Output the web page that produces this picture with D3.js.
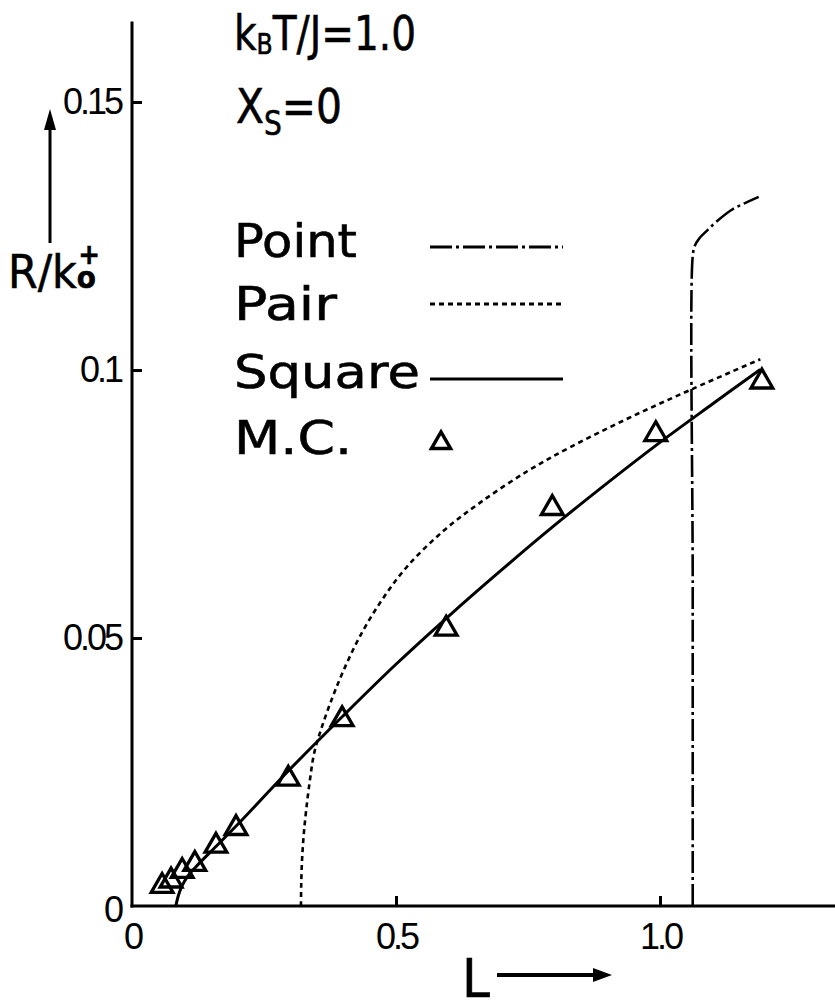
<!DOCTYPE html>
<html>
<head>
<meta charset="utf-8">
<script src="https://cdn.jsdelivr.net/npm/d3@7/dist/d3.min.js"></script>
<style>
  html, body { margin: 0; padding: 0; background: #fff; }
  svg { display: block; }
  .tick text { font-family: "Liberation Sans", Arial, sans-serif; font-size: 36px; letter-spacing: -3px; fill: #000; }
  .lbl { font-family: "DejaVu Sans", "Liberation Sans", sans-serif; fill: #000; stroke: #000; stroke-width: 0.6px; }
</style>
</head>
<body>
<svg id="chart" width="835" height="1001"></svg>
<script>
// Axis ticks and their labels
const xTicks = [0, 0.5, 1.0];
const xTickLabels = ["0", "0.5", "1.0"];
const yTicks = [0, 0.05, 0.1, 0.15];
const yTickLabels = ["0", "0.05", "0.1", "0.15"];

// Point approximation (dash-dot)
const pointL = [1.062, 1.062, 1.062, 1.066, 1.074, 1.09, 1.106, 1.136, 1.16, 1.187];
const pointR = [0, 0.06, 0.1212, 0.1232, 0.1245, 0.1261, 0.1276, 0.1299, 0.1311, 0.1323];

// Pair approximation (dashed)
const pairL = [0.32, 0.3205, 0.322, 0.325, 0.33, 0.337, 0.345, 0.36, 0.38, 0.4, 0.43, 0.47, 0.52, 0.59, 0.66, 0.75, 0.83, 0.94, 1.06, 1.19];
const pairR = [0, 0.004, 0.0085, 0.013, 0.018, 0.0235, 0.0285, 0.0335, 0.039, 0.0438, 0.05, 0.0566, 0.0632, 0.07, 0.0753, 0.0812, 0.0856, 0.091, 0.0964, 0.102];

// Square approximation (solid)
const squareL = [0.083, 0.088, 0.095, 0.105, 0.12, 0.16, 0.2, 0.3, 0.4, 0.5, 0.6, 0.7, 0.8, 0.9, 1.0, 1.1, 1.19];
const squareR = [0, 0.002, 0.0038, 0.0055, 0.0072, 0.0112, 0.0152, 0.0256, 0.0355, 0.0451, 0.0541, 0.0627, 0.071, 0.0789, 0.0865, 0.0937, 0.1001];

// Monte Carlo results (triangles)
const mcL = [0.057, 0.074, 0.095, 0.119, 0.159, 0.197, 0.296, 0.398, 0.595, 0.796, 0.992, 1.193];
const mcR = [0.0039, 0.0049, 0.0067, 0.008, 0.0114, 0.0147, 0.0239, 0.035, 0.0519, 0.0744, 0.0882, 0.098];

const svg = d3.select("#chart");

const x = d3.scaleLinear().domain([0, 1.3277]).range([132, 833]);
const y = d3.scaleLinear().domain([0, 0.165]).range([906, 21.6]);

const zip = (a, b) => a.map((v, i) => [v, b[i]]);

// Axes with inward ticks
const xAxis = d3.axisBottom(x)
  .tickValues(xTicks)
  .tickFormat((d, i) => xTickLabels[i])
  .tickSizeInner(-10).tickSizeOuter(0).tickPadding(17);
const yAxis = d3.axisLeft(y)
  .tickValues(yTicks)
  .tickFormat((d, i) => yTickLabels[i])
  .tickSizeInner(-10).tickSizeOuter(0).tickPadding(11);

const gx = svg.append("g").attr("transform", `translate(0,${y(0)})`).call(xAxis);
const gy = svg.append("g").attr("transform", `translate(${x(0)},0)`).call(yAxis);
[gx, gy].forEach(g => {
  g.select(".domain").attr("stroke", "#000").attr("stroke-width", 3);
  g.selectAll(".tick line").attr("stroke", "#000").attr("stroke-width", 3);
});
gx.select(".domain").attr("d", `M${x(0) - 1.5},0H835`);
gy.select(".domain").attr("d", `M0,${y(0) + 1.5}V${y.range()[1]}`);
// the zero ticks coincide with the other axis
gx.selectAll(".tick").filter(d => d === 0).select("line").remove();
gy.selectAll(".tick").filter(d => d === 0).select("line").remove();
gy.selectAll(".tick").filter(d => d === 0).select("text").attr("dy", "0.42em");

// Curves
const line = d3.line().x(d => x(d[0])).y(d => y(d[1])).curve(d3.curveCatmullRom.alpha(0.5));

svg.append("path").datum(zip(pointL, pointR)).attr("d", line)
  .attr("fill", "none").attr("stroke", "#000").attr("stroke-width", 2.6)
  .attr("stroke-dasharray", "22,4,3,4");
svg.append("path").datum(zip(pairL, pairR)).attr("d", line)
  .attr("fill", "none").attr("stroke", "#000").attr("stroke-width", 2.6)
  .attr("stroke-dasharray", "5,4");
svg.append("path").datum(zip(squareL, squareR)).attr("d", line)
  .attr("fill", "none").attr("stroke", "#000").attr("stroke-width", 3);

// Monte Carlo markers
const tri = d3.symbol().type(d3.symbolTriangle).size(205);
svg.append("g").selectAll("path").data(zip(mcL, mcR)).join("path")
  .attr("d", tri)
  .attr("transform", d => `translate(${x(d[0])},${y(d[1]) + 1})`)
  .attr("fill", "none").attr("stroke", "#000").attr("stroke-width", 3.3)
  .attr("stroke-linejoin", "miter");

// Parameters
const t1 = svg.append("text").attr("class", "lbl").attr("x", 234).attr("y", 50).attr("font-size", 48)
  .attr("textLength", 182).attr("lengthAdjust", "spacingAndGlyphs");
t1.append("tspan").text("k");
t1.append("tspan").attr("font-size", 29).attr("dy", 4).text("B");
t1.append("tspan").attr("dy", -4).text("T/J=1.0");

const t2 = svg.append("text").attr("class", "lbl").attr("x", 236).attr("y", 123).attr("font-size", 48)
  .attr("textLength", 106).attr("lengthAdjust", "spacingAndGlyphs");
t2.append("tspan").text("X");
t2.append("tspan").attr("font-size", 33).attr("dy", 12).text("S");
t2.append("tspan").attr("dy", -12).text("=0");

// Legend
const legendNames = ["Point", "Pair", "Square", "M.C."];
const legendBase = [257, 320, 388, 454];
const legendWidth = [123, 103, 186, 118];
legendNames.forEach((n, i) => {
  svg.append("text").attr("class", "lbl").attr("x", 234).attr("y", legendBase[i])
    .attr("font-size", 47).attr("textLength", legendWidth[i]).attr("lengthAdjust", "spacingAndGlyphs")
    .text(n);
});
const legendLineY = [247, 304, 379];
const legendDash = ["22,4,3,4", "5,4", null];
legendLineY.forEach((ly, i) => {
  const p = svg.append("line").attr("x1", 430).attr("x2", 563).attr("y1", ly).attr("y2", ly)
    .attr("stroke", "#000").attr("stroke-width", i === 2 ? 3 : 2.8);
  if (legendDash[i]) p.attr("stroke-dasharray", legendDash[i]);
});
svg.append("path").attr("d", d3.symbol().type(d3.symbolTriangle).size(160))
  .attr("transform", "translate(441,443)")
  .attr("fill", "none").attr("stroke", "#000").attr("stroke-width", 3.4);

// Axis titles with arrows
const yl = svg.append("text").attr("class", "lbl").attr("x", 8).attr("y", 288).attr("font-size", 46)
  .attr("textLength", 92).attr("lengthAdjust", "spacingAndGlyphs");
yl.append("tspan").text("R/k");
yl.append("tspan").attr("font-size", 30).attr("font-weight", "bold").text("o");
yl.append("tspan").attr("font-size", 28).attr("font-weight", "bold").attr("dx", -19).attr("dy", -24).text("+");

svg.append("line").attr("x1", 50).attr("x2", 50).attr("y1", 243).attr("y2", 126)
  .attr("stroke", "#000").attr("stroke-width", 3);
svg.append("path").attr("d", "M50,109L44,130L56,130Z").attr("fill", "#000");

svg.append("text").attr("class", "lbl").attr("x", 462).attr("y", 997).attr("font-size", 54)
  .attr("textLength", 28).attr("lengthAdjust", "spacingAndGlyphs").text("L");
svg.append("line").attr("x1", 497).attr("x2", 596).attr("y1", 975).attr("y2", 975)
  .attr("stroke", "#000").attr("stroke-width", 4);
svg.append("path").attr("d", "M612,975L593,968L593,982Z").attr("fill", "#000");
</script>
</body>
</html>
